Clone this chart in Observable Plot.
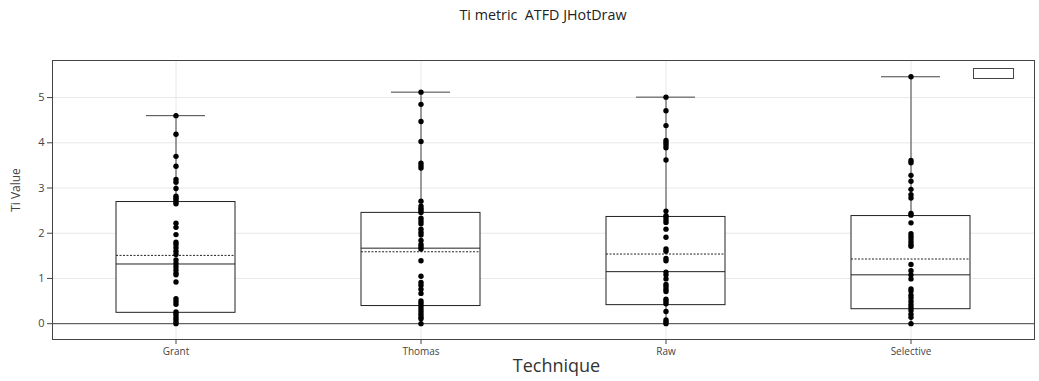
<!DOCTYPE html>
<html>
<head>
<meta charset="utf-8">
<script src="https://cdn.jsdelivr.net/npm/d3@7"></script>
<script src="https://cdn.jsdelivr.net/npm/@observablehq/plot@0.6"></script>
<style>
  html, body { margin: 0; padding: 0; background: #fff; }
  #wrap { position: relative; width: 1039px; height: 381px; font-family: "Open Sans", sans-serif; }
  #title { position: absolute; top: 5px; left: 52px; width: 982px; text-align: center; font-size: 14.3px; color: #222; }
  #legendbox { position: absolute; left: 973px; top: 68px; width: 39px; height: 9px; border: 1px solid #444; background: #fff; }
  svg { display: block; }
</style>
</head>
<body>
<div id="wrap">
  <div id="chart"></div>
  <div id="title">Ti metric&nbsp; ATFD JHotDraw</div>
  <div id="legendbox"></div>
</div>
<script>
const techniques = ["Grant", "Thomas", "Raw", "Selective"];

const grantValues = [4.60, 4.19, 3.70, 3.48, 3.19, 3.13, 2.99, 2.82, 2.78, 2.74, 2.69, 2.65,
  2.22, 2.13, 1.97, 1.80, 1.75, 1.68, 1.60, 1.53, 1.41, 1.33, 1.26, 1.19, 1.12, 1.08, 0.92,
  0.55, 0.49, 0.43, 0.26, 0.21, 0.15, 0.10, 0.04, 0.00];
const thomasValues = [5.12, 4.85, 4.47, 4.03, 3.55, 3.49, 3.44, 2.71, 2.60, 2.55, 2.51, 2.46,
  2.33, 2.27, 2.21, 2.09, 2.02, 1.96, 1.84, 1.75, 1.70, 1.65, 1.39, 1.05, 0.91, 0.85, 0.76,
  0.67, 0.50, 0.45, 0.39, 0.33, 0.27, 0.21, 0.15, 0.11, 0.00];
const rawValues = [5.01, 4.71, 4.38, 4.05, 4.00, 3.95, 3.89, 3.62, 2.49, 2.39, 2.35, 2.29,
  2.24, 2.09, 1.91, 1.65, 1.60, 1.44, 1.39, 1.14, 1.08, 0.99, 0.87, 0.82, 0.76, 0.71, 0.54,
  0.49, 0.44, 0.27, 0.08, 0.04, 0.00];
const selectiveValues = [5.46, 3.61, 3.56, 3.28, 3.15, 2.97, 2.85, 2.78, 2.44, 2.40, 2.23,
  1.99, 1.93, 1.87, 1.81, 1.75, 1.71, 1.31, 1.17, 1.08, 0.99, 0.77, 0.72, 0.63, 0.57, 0.49,
  0.42, 0.36, 0.29, 0.21, 0.14, 0.00];

// Box statistics
const q1 = [0.24, 0.39, 0.41, 0.32];
const median = [1.32, 1.67, 1.15, 1.08];
const q3 = [2.69, 2.45, 2.36, 2.38];
const mean = [1.51, 1.59, 1.54, 1.43];
const upperWhisker = [4.60, 5.12, 5.01, 5.46];
const lowerWhisker = [0, 0, 0, 0];

const yTicks = [0, 1, 2, 3, 4, 5];

const valueSets = [grantValues, thomasValues, rawValues, selectiveValues];
const points = techniques.flatMap((t, i) => valueSets[i].map(v => ({t, v})));
const stats = techniques.map((t, i) => ({
  t, q1: q1[i], median: median[i], q3: q3[i], mean: mean[i],
  hi: upperWhisker[i], lo: lowerWhisker[i]
}));

const ink = "#444";
const chart = Plot.plot({
  width: 1039,
  height: 381,
  marginLeft: 52,
  marginRight: 5,
  marginTop: 60,
  marginBottom: 42,
  style: {fontFamily: "'Open Sans', sans-serif", background: "white", color: ink},
  x: {domain: techniques, paddingInner: 0.515, paddingOuter: 0.2575, label: null},
  y: {domain: [-0.35, 5.82], label: null},
  marks: [
    Plot.gridY(yTicks, {stroke: "#e8e8e8", strokeOpacity: 1}),
    Plot.gridX({stroke: "#e8e8e8", strokeOpacity: 1}),
    Plot.ruleY([0], {stroke: ink, strokeWidth: 1}),
    Plot.barY(stats, {x: "t", y1: "q1", y2: "q3", fill: "white", stroke: "#222", strokeWidth: 1}),
    Plot.ruleX(stats, {x: "t", y1: "q3", y2: "hi", stroke: ink}),
    Plot.ruleX(stats, {x: "t", y1: "lo", y2: "q1", stroke: ink}),
    Plot.tickY(stats, {x: "t", y: "hi", stroke: ink, insetLeft: 30, insetRight: 30}),
    Plot.tickY(stats, {x: "t", y: "median", stroke: "#222"}),
    Plot.tickY(stats, {x: "t", y: "mean", stroke: "#222", strokeDasharray: "2,1.5"}),
    Plot.dot(points, {x: "t", y: "v", r: 2.7, fill: "black", stroke: "none"}),
    Plot.frame({stroke: ink}),
    Plot.axisY({ticks: yTicks, tickFormat: d3.format("d"), tickSize: 5, tickPadding: 3, fontSize: 11, label: null, stroke: ink}),
    Plot.axisX({tickSize: 5, tickPadding: 3, fontSize: 10, label: null, stroke: ink}),
    Plot.text(["Technique"], {frameAnchor: "bottom", dx: 13, dy: 27, lineAnchor: "middle", fontSize: 18, fill: "#333"}),
    Plot.text(["Ti Value"], {frameAnchor: "left", dx: -36, dy: -10, rotate: -90, textAnchor: "middle", fontSize: 12, fill: ink})
  ]
});
document.getElementById("chart").appendChild(chart);
</script>
</body>
</html>
